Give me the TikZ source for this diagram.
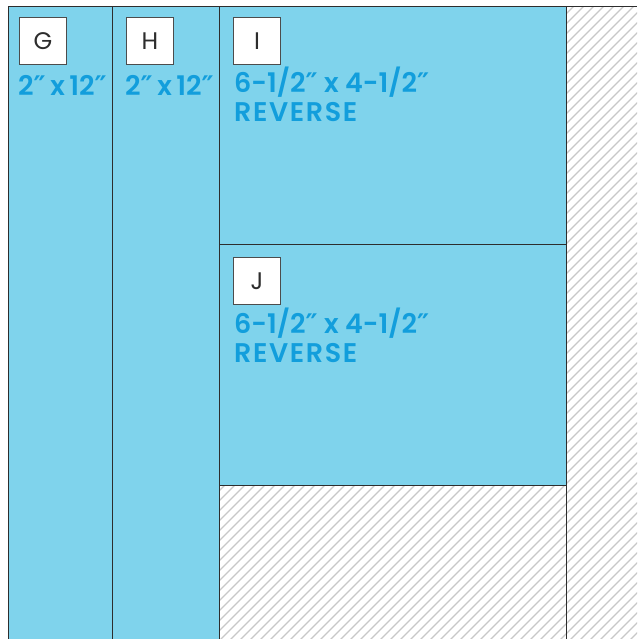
\documentclass[tikz,border=0pt]{standalone}
\usepackage{fontspec}
\setmainfont{Poppins}
\newfontfamily\dimfont{Poppins SemiBold}
\newfontfamily\primefont{DejaVu Sans}
\newcommand{\inch}{{\primefont\bfseries ″}}
\newcommand{\rev}{{\addfontfeatures{LetterSpace=6}REVERSE}}
\usetikzlibrary{positioning}
\definecolor{ink}{RGB}{45,45,45}
\definecolor{fabric}{RGB}{127,211,236}
\definecolor{dimtxt}{RGB}{18,158,220}
\definecolor{hatchgray}{RGB}{200,200,200}
\tikzset{
  piece/.style={fill=fabric},
  seam/.style={draw=ink,line width=1pt},
  hatch/.style={draw=hatchgray,line width=1.3pt},
  tag/.style={draw=ink!85,fill=white,line width=0.8pt,minimum size=47pt,
    inner sep=0pt,font=\fontsize{24}{24}\selectfont,text=ink},
  dims/.style={font=\fontsize{27}{29}\selectfont\dimfont,text=dimtxt,
    align=left,anchor=base west,inner sep=0pt},
}

\begin{document}
\begin{tikzpicture}[x=1pt,y=-1pt]
  \useasboundingbox[fill=white] (0,0) rectangle (637,639);
  % fabric pieces
  \fill[piece] (8,7) rectangle (566,639);
  \fill[white] (219,485) rectangle (566,639);
  % waste area
  \begin{scope}
    \clip (566,7) rectangle (637,639) (219,485) rectangle (566,639);
    \foreach \c in {220,230,...,1290}
      \draw[hatch] (\c-700,700) -- ++(720,-720);
  \end{scope}
  % cut lines
  \draw[seam] (8,639) -- (8,7) -- (637,7);
  \foreach \x in {112,219,566}
    \draw[seam] (\x,7) -- (\x,639);
  \draw[seam] (219,244) -- (566,244);
  \draw[seam] (219,485) -- (566,485);
  % labels
  \node[tag] (tagG) at (43,41) {G};
  \node[tag] (tagH) at (150,41) {H};
  \node[tag] (tagI) at (257,41) {I};
  \node[tag] (tagJ) at (257,281) {J};
  \node[dims] (dimG) at (18,96) {2\inch\,x\,12\inch};
  \node[dims] (dimH) at (125,96) {2\inch\,x\,12\inch};
  \node[dims] (dimI) at (234,122) {6-1/2\inch{} x 4-1/2\inch\\\rev};
  \node[dims] (dimJ) at (234,362) {6-1/2\inch{} x 4-1/2\inch\\\rev};
\end{tikzpicture}
\end{document}
